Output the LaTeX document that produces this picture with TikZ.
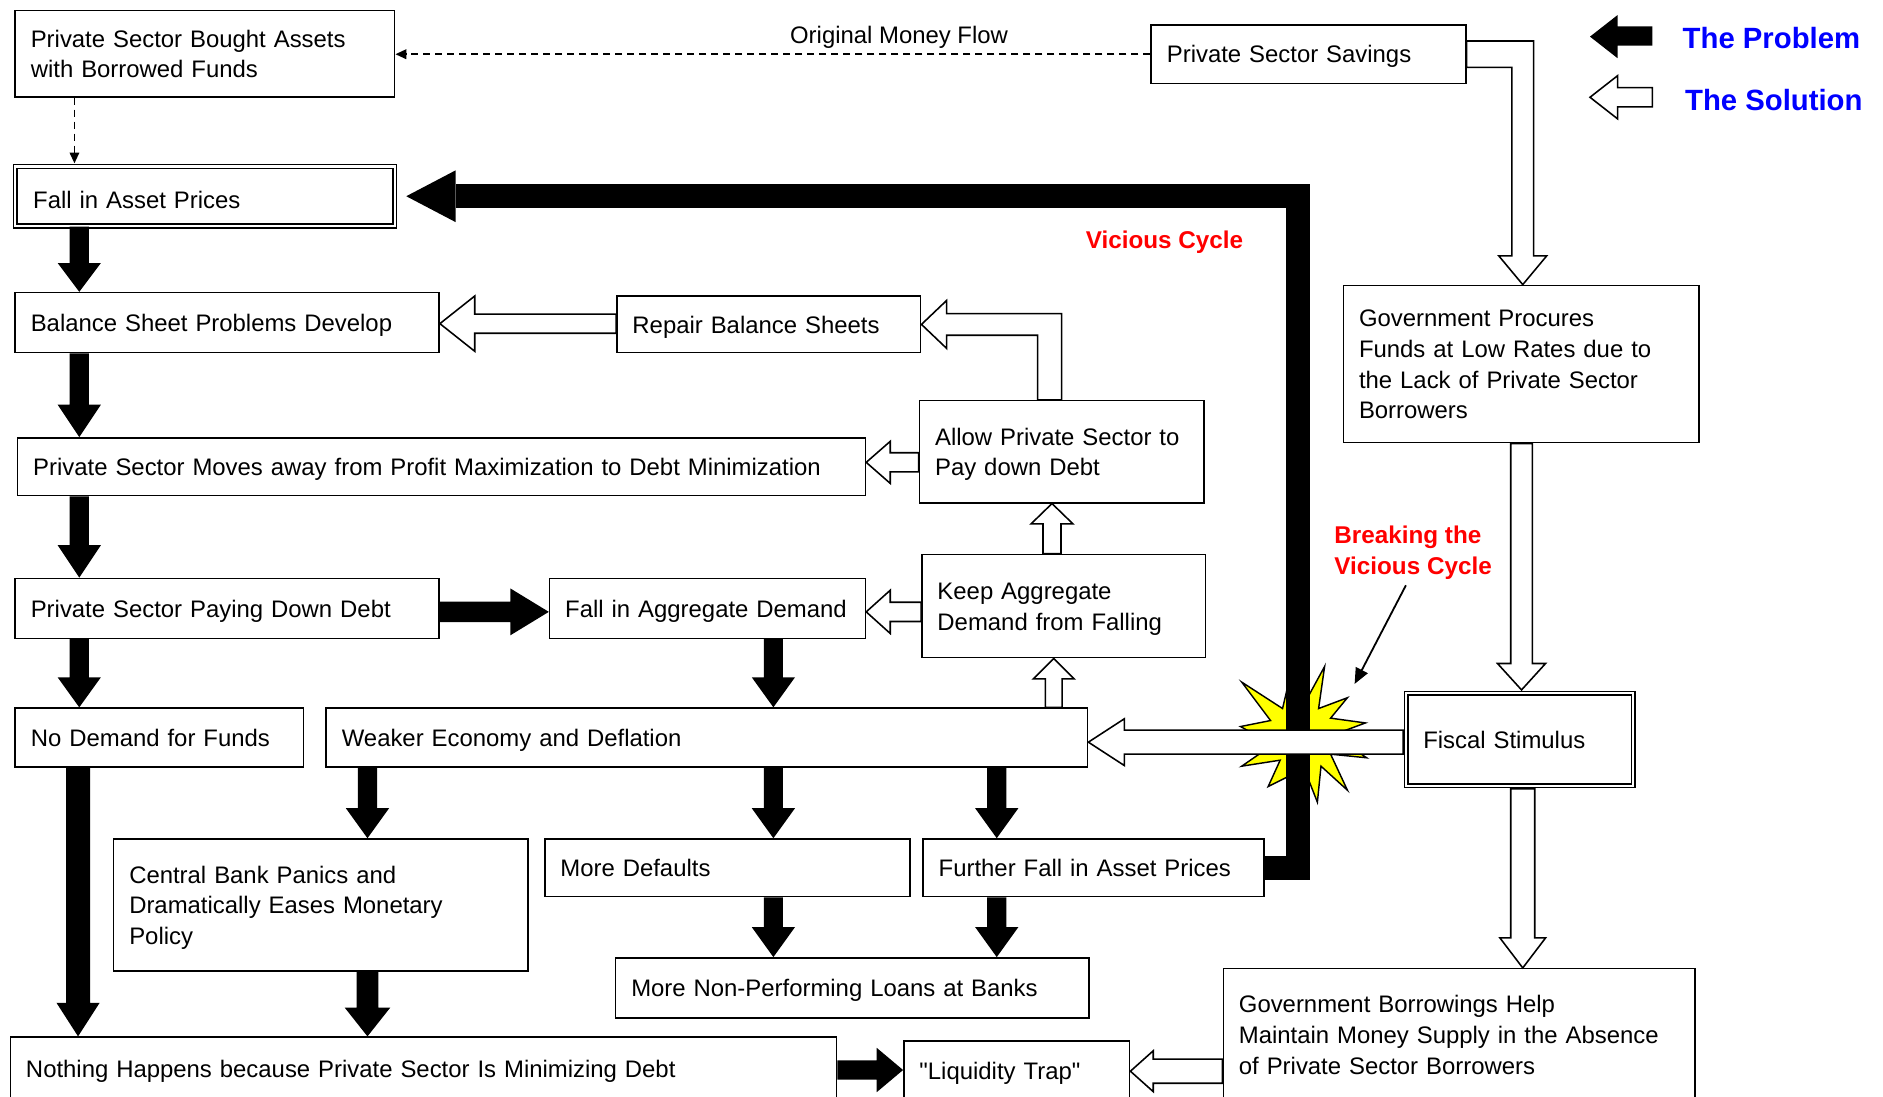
\documentclass[tikz,border=0pt]{standalone}
\usepackage{fontspec}
\newfontfamily\lsans{Liberation Sans}
\usetikzlibrary{arrows.meta,calc}
\definecolor{legblue}{RGB}{0,0,255}
\definecolor{cycred}{RGB}{255,0,0}
\definecolor{staryellow}{RGB}{255,255,0}
\newcommand\bxfont{\lsans\fontsize{19.9pt}{25.5pt}\selectfont}
\newcommand\bxstrut{\rule[-5.5pt]{0pt}{25.5pt}}
% block arrows: #1 style, #2 axis position, #3 start, #4 end, #5 half shaft, #6 half head, #7 head length
\newcommand\arrDown[7]{\draw[#1] let \p1=#3, \p2=#4, \p3=(#2,0) in (\x3-#5pt,\y1) -- (\x3-#5pt,\y2+#7pt) -- (\x3-#6pt,\y2+#7pt) -- (\x3,\y2) -- (\x3+#6pt,\y2+#7pt) -- (\x3+#5pt,\y2+#7pt) -- (\x3+#5pt,\y1) -- cycle;}
\newcommand\arrUp[7]{\draw[#1] let \p1=#3, \p2=#4, \p3=(#2,0) in (\x3-#5pt,\y1) -- (\x3-#5pt,\y2-#7pt) -- (\x3-#6pt,\y2-#7pt) -- (\x3,\y2) -- (\x3+#6pt,\y2-#7pt) -- (\x3+#5pt,\y2-#7pt) -- (\x3+#5pt,\y1) -- cycle;}
\newcommand\arrLeft[7]{\draw[#1] let \p1=#3, \p2=#4, \p3=(0,#2) in (\x1,\y3+#5pt) -- (\x2+#7pt,\y3+#5pt) -- (\x2+#7pt,\y3+#6pt) -- (\x2,\y3) -- (\x2+#7pt,\y3-#6pt) -- (\x2+#7pt,\y3-#5pt) -- (\x1,\y3-#5pt) -- cycle;}
\newcommand\arrRight[7]{\draw[#1] let \p1=#3, \p2=#4, \p3=(0,#2) in (\x1,\y3+#5pt) -- (\x2-#7pt,\y3+#5pt) -- (\x2-#7pt,\y3+#6pt) -- (\x2,\y3) -- (\x2-#7pt,\y3-#6pt) -- (\x2-#7pt,\y3-#5pt) -- (\x1,\y3-#5pt) -- cycle;}
\tikzset{
  box/.style={draw, line width=1.3pt, anchor=north west, inner xsep=13pt, inner ysep=0pt,
    align=left, font=\bxfont, execute at begin node=\bxstrut, execute at end node=\bxstrut},
  dbox/.style={box, double, double distance=1.7pt, line width=1.3pt},
  blk/.style={fill=black, draw=none},
  wht/.style={fill=white, draw=black, line width=1.3pt, line join=miter},
  dashline/.style={line width=1.3pt, dash pattern=on 6pt off 4pt},
  redlbl/.style={text=cycred, font=\lsans\fontsize{20.2pt}{25.5pt}\selectfont\bfseries, inner sep=0pt},
  bluelbl/.style={text=legblue, font=\lsans\fontsize{24.4pt}{29pt}\selectfont\bfseries, inner sep=0pt}
}
\begin{document}
\begin{tikzpicture}[x=1pt, y=-1pt]
\useasboundingbox (0,0) rectangle (1568,913);

% ---- boxes ----
\node[box, text width=290pt, minimum height=72pt] (n1) at (12,8) {Private Sector Bought Assets\\with Borrowed Funds};
\node[dbox, inner xsep=15pt, text width=286pt, minimum height=49.5pt] (fall) at (12,138) {\raisebox{-3pt}{Fall in Asset Prices}};
\node[box, text width=236pt, minimum height=49pt] (sav) at (958,20) {Private Sector Savings};
\node[box, text width=327pt, minimum height=50pt] (bal) at (12,243) {Balance Sheet Problems Develop};
\node[box, text width=227pt, minimum height=47pt] (rep) at (513,246) {Repair Balance Sheets};
\node[box, text width=270pt, minimum height=131pt] (gov) at (1118,237) {Government Procures\\Funds at Low Rates due to\\the Lack of Private Sector\\Borrowers};
\node[box, text width=680pt, minimum height=48pt] (mov) at (14,364) {Private Sector Moves away from Profit Maximization to Debt Minimization};
\node[box, text width=211pt, minimum height=85pt] (allow) at (765,333) {Allow Private Sector to\\Pay down Debt};
\node[box, text width=327pt, minimum height=50pt] (pay) at (12,481) {Private Sector Paying Down Debt};
\node[box, text width=237pt, minimum height=50pt] (agg) at (457,481) {\mbox{Fall in Aggregate Demand}};
\node[box, text width=210pt, minimum height=86pt] (keep) at (767,461) {Keep Aggregate\\Demand from Falling};
\node[box, text width=214pt, minimum height=49pt] (nodem) at (12,589) {No Demand for Funds};
\node[box, text width=608pt, minimum height=49pt] (weak) at (271,589) {Weaker Economy and Deflation};
\node[dbox, inner xsep=14pt, text width=161pt, minimum height=77pt] (fisc) at (1170.5,576.5) {Fiscal Stimulus};
\node[box, text width=319pt, minimum height=110pt] (cb) at (94,698) {Central Bank Panics and\\Dramatically Eases Monetary\\Policy};
\node[box, text width=278pt, minimum height=48pt] (def) at (453,698) {More Defaults};
\node[box, text width=258pt, minimum height=48pt] (ffall) at (768,698) {Further Fall in Asset Prices};
\node[box, text width=368pt, minimum height=50pt] (npl) at (512,797) {More Non-Performing Loans at Banks};
\node[box, text width=662pt, minimum height=52pt] (noth) at (8,863) {Nothing Happens because Private Sector Is Minimizing Debt};
\node[box, text width=162pt, minimum height=50pt] (liq) at (752,866) {"Liquidity Trap"};
\node[box, text width=367pt, minimum height=110pt] (gb) at (1018,806) {Government Borrowings Help\\Maintain Money Supply in the Absence\\of Private Sector Borrowers};

% ---- labels ----
\node[redlbl, anchor=base west] (vc) at (904,207) {Vicious Cycle};
\node[redlbl, anchor=base west, align=left] (brk) at (1111,478) {Breaking the\\Vicious Cycle};
\node[bluelbl, anchor=base west] (lp) at (1401,40.7) {The Problem};
\node[bluelbl, anchor=base west] (ls) at (1403,92.2) {The Solution};

% ---- legend arrows ----
\fill[black] (1376,22) -- (1347,22) -- (1347,12.5) -- (1324,30.5) -- (1347,48.5) -- (1347,38) -- (1376,38) -- cycle;
\draw[wht] (1376,73) -- (1347,73) -- (1347,63) -- (1324,81) -- (1347,99) -- (1347,89) -- (1376,89) -- cycle;

% ---- dashed original money flow ----
\coordinate (dx) at (62,0);
\draw[dashline, -{Triangle[length=9pt,width=8pt]}] (sav.west) -- node[pos=0.333, anchor=base, yshift=9pt, font=\bxfont] (omf) {Original Money Flow} (sav.west -| n1.east);
\draw[dashline, -{Triangle[length=9pt,width=8pt]}, shorten >=2pt] (n1.south -| dx) -- (fall.north -| dx);

% ---- star ----
\fill[staryellow, draw=black, line width=1.2pt, line join=miter]
  (1103,555) -- (1098,590) -- (1122,581) -- (1108,598) -- (1137,602) -- (1110,612) -- (1138,631)
  -- (1108,628) -- (1122,658) -- (1100,638) -- (1097,668) -- (1086,640) -- (1056,655) -- (1066,633)
  -- (1034,638) -- (1060,620) -- (1033,605) -- (1058,600) -- (1034,568) -- (1068,590) -- (1075,560)
  -- (1085,588) -- cycle;

% ---- vicious cycle thick path ----
\draw[line width=20pt, line join=miter] let \p1=(ffall.east), \p2=(fall.east), \p3=(1081,0) in
  (\x1,\y1) -- (\x3,\y1) -- (\x3,\y2) -- (\x2+50pt,\y2);
\fill let \p2=(fall.east) in (\x2+50pt,\y2+21.5pt) -- (\x2+9pt,\y2) -- (\x2+50pt,\y2-21.5pt) -- cycle;

% ---- black block arrows ----
\arrDown{blk}{66}{(fall.south)}{(bal.north)}{8}{18}{24}
\arrDown{blk}{66}{(bal.south)}{(mov.north)}{8}{18}{27}
\arrDown{blk}{66}{(mov.south)}{(pay.north)}{8}{18}{27}
\arrDown{blk}{66}{(pay.south)}{(nodem.north)}{8}{18}{25}
\arrDown{blk}{65}{(nodem.south)}{(noth.north)}{10}{18}{28}
\arrDown{blk}{644}{(agg.south)}{(weak.north)}{8}{18}{25}
\arrDown{blk}{306}{(weak.south)}{(cb.north)}{8}{18}{25}
\arrDown{blk}{644}{(weak.south)}{(def.north)}{8}{18}{25}
\arrDown{blk}{830}{(weak.south)}{(ffall.north)}{8}{18}{25}
\arrDown{blk}{644}{(def.south)}{(npl.north)}{8}{18}{25}
\arrDown{blk}{830}{(ffall.south)}{(npl.north)}{8}{18}{25}
\arrDown{blk}{306}{(cb.south)}{(noth.north)}{9}{19}{24}
\arrRight{blk}{509.5}{(pay.east)}{(agg.west)}{8.5}{19.5}{32}
\arrRight{blk}{891}{(noth.east)}{(liq.west)}{8}{18.5}{22}

% ---- white block arrows ----
\arrLeft{wht}{269.5}{(rep.west)}{(bal.east)}{8}{23}{29}
\arrLeft{wht}{385}{(allow.west)}{(mov.east)}{8}{17.5}{20}
\arrLeft{wht}{509.5}{(keep.west)}{(agg.east)}{8}{18}{20}
\arrUp{wht}{876}{(keep.north)}{(allow.south)}{7.5}{17.5}{17}
\arrUp{wht}{877.5}{(weak.north)}{(keep.south)}{7}{17}{17}
\arrDown{wht}{1267}{(gov.south)}{([yshift=2pt]fisc.north)}{9}{20}{22}
\arrDown{wht}{1268}{([yshift=-2pt]fisc.south)}{(gb.north)}{10}{19}{25}
\arrLeft{wht}{892}{(gb.west)}{(liq.east)}{10}{17}{19}
\arrLeft{wht}{618}{([xshift=-2pt]fisc.west)}{(weak.east)}{10}{19.5}{30}

% savings -> government (elbow)
\draw[wht] let \p1=(sav.east), \p2=(gov.north), \p3=(1268,0) in
  (\x1,\y1+11pt) -- (\x3+9pt,\y1+11pt) -- (\x3+9pt,\y2+24pt) -- (\x3+20pt,\y2+24pt) -- (\x3,\y2)
  -- (\x3-20pt,\y2+24pt) -- (\x3-9pt,\y2+24pt) -- (\x3-9pt,\y1-11pt) -- (\x1,\y1-11pt) -- cycle;
% allow -> repair (elbow)
\draw[wht] let \p1=(allow.north), \p2=(rep.east), \p3=(874,0) in
  (\x3-10pt,\y1) -- (\x3-10pt,\y2-9pt) -- (\x2+21pt,\y2-9pt) -- (\x2+21pt,\y2-20pt) -- (\x2,\y2)
  -- (\x2+21pt,\y2+20pt) -- (\x2+21pt,\y2+9pt) -- (\x3+10pt,\y2+9pt) -- (\x3+10pt,\y1) -- cycle;

% breaking the cycle pointer
\coordinate (brktip) at (1128,569.5);
\draw[line width=1.5pt, -{Triangle[length=13pt,width=11pt]}] ([shift={(-6,5)}]brk.south) -- (brktip);
\end{tikzpicture}
\end{document}
